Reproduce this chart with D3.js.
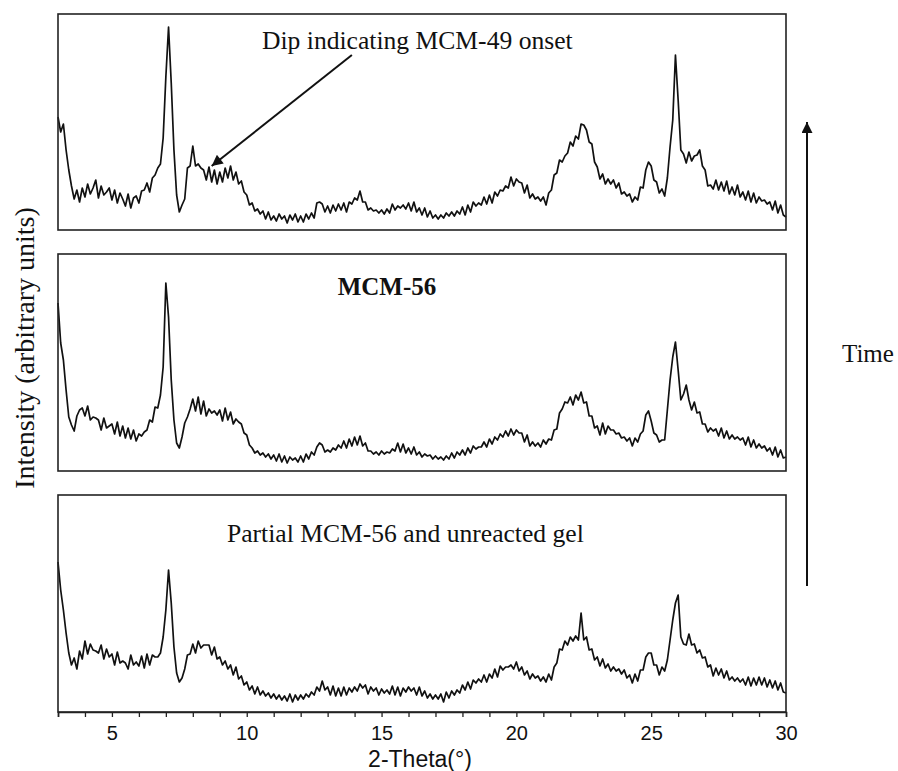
<!DOCTYPE html>
<html><head><meta charset="utf-8">
<script src="https://cdn.jsdelivr.net/npm/d3@7"></script>
<style>body{margin:0;background:#fff}</style></head>
<body>
<svg id="chart" width="898" height="771"></svg>
<script>
// 2-Theta sampling grid (degrees), 3.0 .. 30.0 in 0.1 steps
const twoTheta = d3.range(0, 271).map(i => +(3 + i * 0.1).toFixed(1));

// Intensities (arbitrary units), one value per 0.1 deg
const seriesLate = [
113,98,106,80,60,44,31,40,28,42,
33,46,36,42,50,32,44,35,38,42,
30,40,27,37,31,24,36,22,32,34,
27,39,40,47,38,52,55,62,66,92,
153,203,147,80,35,18,25,31,62,64,
84,64,66,62,60,50,63,48,60,46,
58,48,62,52,64,50,58,46,49,38,
35,25,27,19,21,16,19,11,18,10,
14,9,16,11,14,7,15,10,16,8,
14,8,16,11,17,12,27,28,26,18,
24,17,25,19,26,20,27,18,28,26,
32,30,39,28,28,20,22,19,20,17,
20,16,21,17,26,20,24,22,25,21,
27,19,28,18,22,15,22,13,19,12,
15,11,15,12,17,14,18,14,19,16,
23,15,25,18,28,24,27,25,33,26,
35,27,38,34,40,39,44,42,53,44,
51,48,47,37,45,32,36,31,33,29,
33,25,37,40,55,57,70,68,74,77,
88,84,94,91,106,105,100,88,86,68,
63,51,56,46,51,46,50,42,47,36,
38,34,36,28,33,30,43,42,60,68,
64,50,48,37,41,34,52,83,110,175,
130,80,76,67,78,69,74,75,80,64,
60,44,45,41,50,40,48,39,49,36,
43,35,45,33,38,30,39,28,37,27,
33,29,30,26,28,20,29,17,25,15,
13];

const seriesMid = [
168,128,111,81,54,46,40,55,61,63,
55,65,51,54,53,51,41,53,43,45,
47,37,49,35,45,33,43,32,41,30,
37,35,39,41,51,49,64,63,76,104,
188,154,91,51,28,23,34,48,54,62,
72,60,74,57,70,55,62,58,60,56,
61,50,63,51,59,47,52,49,47,38,
36,26,23,18,20,16,18,14,17,12,
16,10,17,9,15,8,14,11,13,9,
15,9,17,12,19,16,24,28,26,19,
21,19,23,21,26,23,30,23,32,25,
34,26,35,25,28,20,20,17,19,16,
20,17,19,18,22,20,28,19,27,18,
23,17,24,16,19,14,17,15,16,12,
15,12,14,11,15,12,18,13,19,16,
21,16,23,18,25,22,24,24,29,24,
32,27,34,31,37,34,40,35,42,36,
41,38,38,29,36,25,29,25,28,24,
31,27,32,31,41,42,58,62,69,68,
74,66,76,71,79,68,69,55,55,43,
45,36,48,37,45,41,41,37,38,33,
34,30,33,25,33,29,37,40,56,60,
50,38,36,29,31,31,61,91,114,129,
101,71,77,86,71,61,69,58,59,47,
47,39,43,40,42,35,43,33,40,32,
36,32,34,31,33,26,34,24,31,23,
27,23,25,20,23,16,24,14,21,13,
14];

const seriesEarly = [
150,122,102,79,59,47,54,43,61,53,
71,58,68,62,61,59,67,53,63,55,
58,47,60,49,51,49,43,57,47,50,
46,56,44,58,47,57,55,55,59,75,
102,142,109,65,39,30,34,43,57,58,
68,59,71,64,67,67,67,57,65,53,
55,47,51,43,47,37,45,33,36,27,
30,22,26,18,25,17,21,16,19,14,
18,13,17,12,16,11,18,10,17,12,
17,13,18,15,20,17,25,21,31,22,
25,17,26,16,24,16,25,17,24,20,
25,21,28,24,27,18,25,21,24,17,
23,19,22,18,26,17,25,16,24,20,
25,21,24,17,25,16,21,14,18,13,
17,13,18,10,20,14,21,17,22,19,
27,22,30,23,32,29,33,30,37,30,
38,34,43,35,46,42,45,45,47,43,
50,41,45,37,41,33,38,34,36,31,
35,30,38,32,45,49,63,62,71,67,
75,71,76,72,99,72,75,62,63,52,
55,46,53,44,48,41,45,41,43,38,
42,34,37,29,38,31,42,42,55,59,
59,47,47,37,45,41,52,72,92,109,
117,75,68,67,78,67,68,59,62,54,
55,45,47,36,44,37,43,34,41,32,
35,31,34,30,33,27,35,26,34,27,
35,27,34,25,32,24,31,22,29,20,
19];

const panelLabels = ["Dip indicating MCM-49 onset", "MCM-56", "Partial MCM-56 and unreacted gel"];
const xTickValues = d3.range(3, 31);
const xLabelValues = [5, 10, 15, 20, 25, 30];
const xTitle = "2-Theta(\u00B0)";
const yTitle = "Intensity (arbitrary units)";
const timeLabel = "Time";
// arrow annotation in data coords of top panel: [2theta, intensity]
const dipArrowTail = [13.9, 175];
const dipArrowHead = [8.7, 64];

const svg = d3.select("#chart");
const serif = "'Liberation Serif','Times New Roman',serif";
const sans = "'Liberation Sans',Arial,sans-serif";

svg.append("defs").append("marker")
  .attr("id", "ah").attr("viewBox", "0 0 10 10").attr("refX", 10).attr("refY", 5)
  .attr("markerWidth", 13).attr("markerHeight", 11).attr("markerUnits", "userSpaceOnUse")
  .attr("orient", "auto")
  .append("path").attr("d", "M0,0 L10,5 L0,10 z").attr("fill", "#111");

const x = d3.scaleLinear().domain([3, 30]).range([58, 786]);

const panels = [
  {data: seriesLate, top: 14, bottom: 230},
  {data: seriesMid, top: 254, bottom: 471},
  {data: seriesEarly, top: 495, bottom: 712}
];

panels.forEach((p, i) => {
  p.y = d3.scaleLinear().domain([0, 216]).range([p.bottom, p.bottom - 216]);
  const g = svg.append("g");
  const line = d3.line().x((d, j) => x(twoTheta[j])).y(d => p.y(d));
  g.append("path").datum(p.data).attr("d", line)
    .attr("fill", "none").attr("stroke", "#111").attr("stroke-width", 1.7)
    .attr("stroke-linejoin", "round");
  g.append("rect").attr("x", x(3)).attr("y", p.top)
    .attr("width", x(30) - x(3)).attr("height", p.bottom - p.top)
    .attr("fill", "none").attr("stroke", "#222").attr("stroke-width", 1.6);
});

// bottom axis
const axis = d3.axisBottom(x).tickValues(xTickValues).tickSize(5).tickPadding(9)
  .tickFormat(d => xLabelValues.includes(d) ? d : "");
const ax = svg.append("g").attr("transform", `translate(0,${panels[2].bottom})`).call(axis);
ax.select(".domain").attr("stroke", "#222").attr("stroke-width", 1.6);
ax.selectAll(".tick line").attr("stroke", "#222").attr("stroke-width", 1.3);
ax.selectAll(".tick text").attr("font-family", sans).attr("font-size", 20).attr("fill", "#111");

svg.append("text").attr("x", 420).attr("y", 767).attr("text-anchor", "middle")
  .attr("font-family", sans).attr("font-size", 23).attr("fill", "#111").text(xTitle);

svg.append("text").attr("transform", "translate(34,348) rotate(-90)").attr("text-anchor", "middle")
  .attr("font-family", serif).attr("font-size", 28).attr("fill", "#111").text(yTitle);

// panel annotations
svg.append("text").attr("x", 262).attr("y", 49).attr("font-family", serif)
  .attr("font-size", 25.6).attr("fill", "#111").text(panelLabels[0]);
svg.append("text").attr("x", 387).attr("y", 295).attr("text-anchor", "middle").attr("font-family", serif)
  .attr("font-weight", "bold").attr("font-size", 25).attr("fill", "#111").text(panelLabels[1]);
svg.append("text").attr("x", 227).attr("y", 542).attr("font-family", serif)
  .attr("font-size", 25.6).attr("fill", "#111").text(panelLabels[2]);

svg.append("line")
  .attr("x1", x(dipArrowTail[0])).attr("y1", panels[0].y(dipArrowTail[1]))
  .attr("x2", x(dipArrowHead[0])).attr("y2", panels[0].y(dipArrowHead[1]))
  .attr("stroke", "#111").attr("stroke-width", 2).attr("marker-end", "url(#ah)");

// time arrow
svg.append("line").attr("x1", 807).attr("y1", 586).attr("x2", 807).attr("y2", 122)
  .attr("stroke", "#111").attr("stroke-width", 2).attr("marker-end", "url(#ah)");
svg.append("text").attr("x", 842).attr("y", 362).attr("font-family", serif)
  .attr("font-size", 25).attr("fill", "#111").text(timeLabel);
</script>
</body></html>
